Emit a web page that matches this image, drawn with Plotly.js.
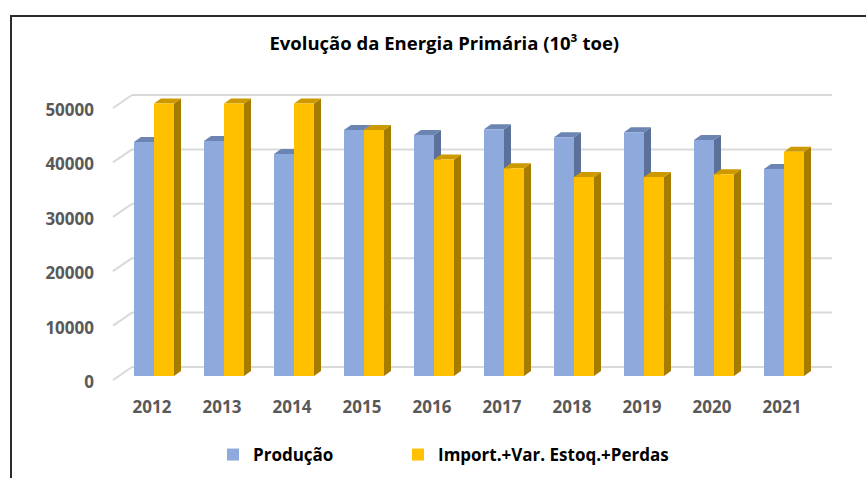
<!DOCTYPE html>
<html><head><meta charset="utf-8">
<script src="https://cdn.plot.ly/plotly-3.0.1.min.js"></script>
<style>
html,body{margin:0;padding:0;background:#fff}
body{position:relative;width:866px;height:478px;overflow:hidden}
#chart{width:866px;height:478px}
#frame{position:absolute;left:10px;top:15px;width:900px;height:500px;border-left:2px solid #2b2b2b;border-top:2px solid #2b2b2b;pointer-events:none}
</style></head><body>
<div id="chart"></div><div id="frame"></div>
<script>
// ---- data ----
const years = ['2012','2013','2014','2015','2016','2017','2018','2019','2020','2021'];
const producao   = [43000, 43200, 40800, 45200, 44300, 45350, 43900, 44800, 43400, 38050];
const importacao = [50100, 50100, 50100, 45200, 39800, 38200, 36600, 36600, 37100, 41200];
const yTicks = [0, 10000, 20000, 30000, 40000, 50000];
const seriesNames = ['Produção', 'Import.+Var. Estoq.+Perdas'];

// ---- styling / geometry ----
const PX_X = 70;          // px per category
const PX_Y = 0.00544;     // px per unit
const xs = years.map((_, i) => i);
const barW = 20 / PX_X;
const dX = 7 / PX_X, dY = 5 / PX_Y;
const colFront = ['#8EA9DB', '#FFC000'];
const colTop   = ['#6C84B1', '#CC9A00'];
const colSide  = ['#5B7199', '#A67C00'];
const gridCol = '#d9d9d9';
const FAM = '"Open Sans", Lato, sans-serif';

const shapes = [];
// back wall gridlines + left side diagonals
const xFront = (113 - 154) / PX_X, xBack = (132 - 154) / PX_X, xEnd = (832 - 154) / PX_X;
const yFrontOff = -4 / PX_Y, yBackOff = 9 / PX_Y;
yTicks.forEach(v => {
  shapes.push({type:'line', layer:'below', x0:xFront, y0:v + yFrontOff, x1:xBack, y1:v + yBackOff,
    line:{color:gridCol, width:2}});
  shapes.push({type:'line', layer:'below', x0:xBack, y0:v + yBackOff, x1:xEnd, y1:v + yBackOff,
    line:{color:gridCol, width:2}});
});
function faces(vals, k) {
  vals.forEach((h, i) => {
    const L = xs[i] + (k === 0 ? -barW : 0), R = L + barW;
    shapes.push({type:'path', layer:'below', line:{width:0}, fillcolor:colSide[k],
      path:`M${R},0 L${R},${h} L${R + dX},${h + dY} L${R + dX},${dY} Z`});
    shapes.push({type:'path', layer:'below', line:{width:0}, fillcolor:colTop[k],
      path:`M${L},${h} L${L + dX},${h + dY} L${R + dX},${h + dY} L${R},${h} Z`});
  });
}
faces(producao, 0);
faces(importacao, 1);

const tickFont = {family:FAM, size:17, weight:'bold', color:'#595959'};
const legFont = {family:FAM, size:17, weight:'bold', color:'#000'};

const data = [
  {type:'bar', name:seriesNames[0], x:xs, y:producao, marker:{color:colFront[0], line:{width:0}}, legend:'legend'},
  {type:'bar', name:seriesNames[1], x:xs, y:importacao, marker:{color:colFront[1], line:{width:0}}, legend:'legend2'}
];

const legBase = {orientation:'h', xref:'paper', yref:'paper', xanchor:'left', yanchor:'top',
  y:(395 - 437) / 315, font:legFont, bgcolor:'rgba(0,0,0,0)'};

const layout = {
  width:866, height:478,
  margin:{l:100, r:16, t:80, b:83, autoexpand:false},
  paper_bgcolor:'#fff', plot_bgcolor:'rgba(0,0,0,0)',
  barmode:'group', bargap:1 - 2 * barW, bargroupgap:0,
  title:{text:'Evolução da Energia Primária (10³ toe)', x:0.513, xanchor:'center', y:1 - 44/478, yanchor:'middle',
    font:{family:FAM, size:18.5, weight:'bold', color:'#000'}},
  xaxis:{range:[-0.7714, 9.9429], tickvals:xs, ticktext:years, showgrid:false, zeroline:false, showline:false,
    ticks:'', tickfont:tickFont, ticklabelshift:-2, fixedrange:true, automargin:false},
  yaxis:{range:[-3493, 54412], tickvals:yTicks, ticktext:yTicks.map(String), showgrid:false, zeroline:false, showline:false,
    ticks:'', tickfont:tickFont, ticklabelshift:6, ticklabelstandoff:5, fixedrange:true, automargin:false},
  showlegend:true,
  legend:Object.assign({}, legBase, {x:(213 - 100) / 750}),
  legend2:Object.assign({}, legBase, {x:(398 - 100) / 750}),
  shapes:shapes
};
Plotly.newPlot('chart', data, layout, {staticPlot:true, displayModeBar:false});
</script>
</body></html>
